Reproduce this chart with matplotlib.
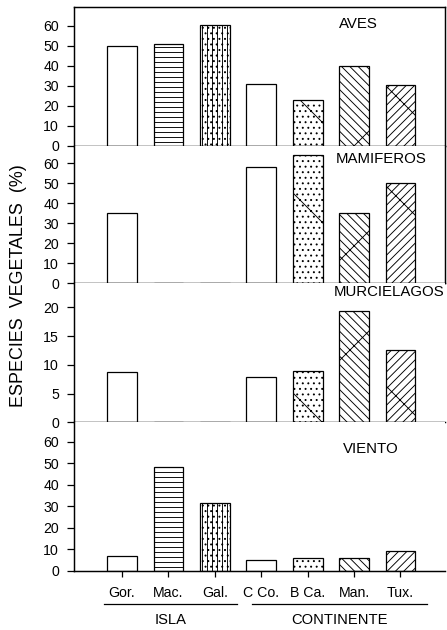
import matplotlib
matplotlib.use("Agg")
import matplotlib.pyplot as plt
import numpy as np

categories = ["Gor.", "Mac.", "Gal.", "C Co.", "B Ca.", "Man.", "Tux."]
aves = [50, 51, 60.5, 31, 23, 40, 30.5]
mamiferos = [35.3, 0, 0, 58.3, 64.2, 35, 50]
murcielagos = [8.7, 0, 0, 7.9, 8.9, 19.4, 12.6]
viento = [6.8, 48.1, 31.5, 5, 6.2, 6.2, 9.3]

panel_names = ["AVES", "MAMIFEROS", "MURCIELAGOS", "VIENTO"]
panel_ticks = [np.arange(0, 61, 10), np.arange(0, 61, 10), np.arange(0, 21, 5), np.arange(0, 61, 10)]
groups = ["ISLA", "CONTINENTE"]


def main() -> None:
    plt.rcParams["font.family"] = ["Liberation Sans", "DejaVu Sans"]
    plt.rcParams["hatch.linewidth"] = 0.22
    plt.rcParams["axes.linewidth"] = 0.35

    # figure is drawn at 300 dpi so the hatch cell is 300 px (sparse lines possible)
    fig = plt.figure(figsize=(1.49, 2.1), dpi=300)

    hatches = ["", "-" * 10, "|" * 10 + "." * 9, "", "\\" + "." * 9, "\\" * 12 + "/", "/" * 12 + "\\"]

    # axes rects [left, bottom, width, height] in figure fraction
    rects = [
        [0.1662, 0.7687, 0.8293, 0.2202],
        [0.1662, 0.5503, 0.8293, 0.2184],
        [0.1662, 0.3294, 0.8293, 0.2210],
        [0.1662, 0.0937, 0.8293, 0.2357],
    ]
    ylims = [69.5, 68.8, 24.2, 69.0]
    title_pos = [(0.767, 0.877), (0.827, 0.903), (0.849, 0.9375), (0.80, 0.82)]
    series = [aves, mamiferos, murcielagos, viento]

    x = np.arange(len(categories))
    axes = []
    for i, vals in enumerate(series):
        ax = fig.add_axes(rects[i])
        ax.bar(x, vals, width=0.64, color="white", edgecolor="black",
               linewidth=0.3, hatch=hatches)
        ax.set_xlim(-1.03, 6.96)
        ax.set_ylim(0, ylims[i])
        ax.set_yticks(panel_ticks[i])
        ax.tick_params(axis="y", direction="out", length=1.7, width=0.3,
                       pad=2.0, labelsize=3.4)
        ax.text(title_pos[i][0], title_pos[i][1], panel_names[i], transform=ax.transAxes,
                ha="center", va="center", fontsize=3.6)
        if i > 0:
            ax.spines["top"].set_visible(False)
        if i > 1:
            ax.spines["right"].set_visible(False)
        if i < 3:
            ax.tick_params(axis="x", bottom=False, labelbottom=False)
        else:
            ax.set_xticks(x)
            ax.set_xticklabels(categories)
            ax.tick_params(axis="x", direction="out", length=1.4, width=0.3,
                           pad=2.2, labelsize=3.4)
        axes.append(ax)

    ax4 = axes[-1]
    trans = ax4.get_xaxis_transform()
    spans = [(-0.39, 2.48), (2.80, 6.57)]
    for name, (a, b) in zip(groups, spans):
        ax4.plot([a, b], [-0.222, -0.222], color="black", linewidth=0.3,
                 transform=trans, clip_on=False)
        ax4.text((a + b) / 2, -0.33, name, transform=trans, ha="center",
                 va="center", fontsize=3.55)

    fig.text(0.0425, 0.546, "ESPECIES  VEGETALES  (%)", rotation=90,
             ha="center", va="center", fontsize=4.3)

    fig.savefig("out.png", dpi=300)


if __name__ == "__main__":
    main()
